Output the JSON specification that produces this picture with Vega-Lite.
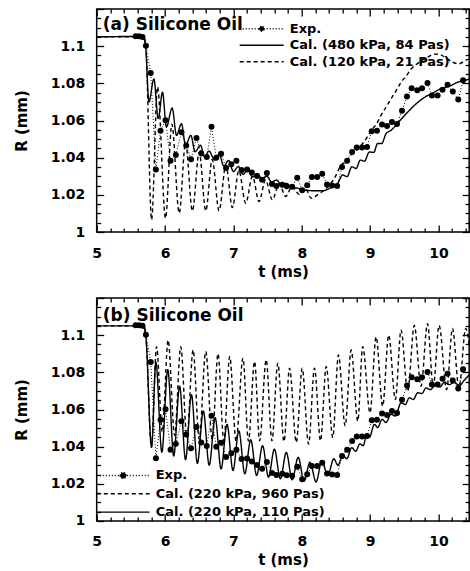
{
  "$schema": "https://vega.github.io/schema/vega-lite/v6.json",
  "padding": {"left": 12.7, "top": 7, "right": 0, "bottom": 0},
  "spacing": 16,
  "config": {
    "view": {"stroke": "black", "strokeWidth": 1.5},
    "font": "DejaVu Sans",
    "axis": {
      "domain": false, "grid": false, "ticks": true, "tickColor": "black", "tickWidth": 1.3,
      "labelFont": "DejaVu Sans", "labelFontWeight": "bold", "labelColor": "black",
      "titleFont": "DejaVu Sans", "titleFontWeight": "bold", "titleFontSize": 15, "titleColor": "black",
      "labelOverlap": false, "labelFlush": false, "labelBound": false
    }
  },
  "resolve": {"scale": {"strokeDash": "independent"}, "legend": {"strokeDash": "independent"}},
  "datasets": {
    "exp": [
      {"series":"Exp.","t":5.57,"R":1.1053},{"series":"Exp.","t":5.62,"R":1.1053},{"series":"Exp.","t":5.67,"R":1.105},{"series":"Exp.","t":5.72,"R":1.1002},
      {"series":"Exp.","t":5.79,"R":1.0856},{"series":"Exp.","t":5.866,"R":1.0337},{"series":"Exp.","t":5.934,"R":1.0545},{"series":"Exp.","t":6.007,"R":1.0602},
      {"series":"Exp.","t":6.08,"R":1.0383},{"series":"Exp.","t":6.158,"R":1.0415},{"series":"Exp.","t":6.24,"R":1.0537},{"series":"Exp.","t":6.31,"R":1.0466},
      {"series":"Exp.","t":6.38,"R":1.0391},{"series":"Exp.","t":6.46,"R":1.0506},{"series":"Exp.","t":6.53,"R":1.0423},{"series":"Exp.","t":6.61,"R":1.0403},
      {"series":"Exp.","t":6.68,"R":1.0566},{"series":"Exp.","t":6.75,"R":1.04},{"series":"Exp.","t":6.82,"R":1.0421},{"series":"Exp.","t":6.893,"R":1.0345},
      {"series":"Exp.","t":6.97,"R":1.0365},{"series":"Exp.","t":7.044,"R":1.0383},{"series":"Exp.","t":7.12,"R":1.0333},{"series":"Exp.","t":7.2,"R":1.0336},
      {"series":"Exp.","t":7.27,"R":1.032},{"series":"Exp.","t":7.345,"R":1.0301},{"series":"Exp.","t":7.42,"R":1.0281},{"series":"Exp.","t":7.49,"R":1.0317},
      {"series":"Exp.","t":7.565,"R":1.0258},{"series":"Exp.","t":7.63,"R":1.0247},{"series":"Exp.","t":7.715,"R":1.0254},{"series":"Exp.","t":7.78,"R":1.0246},
      {"series":"Exp.","t":7.86,"R":1.0243},{"series":"Exp.","t":7.934,"R":1.0292},{"series":"Exp.","t":8.007,"R":1.0225},{"series":"Exp.","t":8.08,"R":1.0251},
      {"series":"Exp.","t":8.148,"R":1.0296},{"series":"Exp.","t":8.226,"R":1.0296},{"series":"Exp.","t":8.3,"R":1.0314},{"series":"Exp.","t":8.37,"R":1.0255},
      {"series":"Exp.","t":8.445,"R":1.025},{"series":"Exp.","t":8.518,"R":1.0248},{"series":"Exp.","t":8.59,"R":1.035},{"series":"Exp.","t":8.664,"R":1.0383},
      {"series":"Exp.","t":8.737,"R":1.0431},{"series":"Exp.","t":8.805,"R":1.0455},{"series":"Exp.","t":8.883,"R":1.0455},{"series":"Exp.","t":8.956,"R":1.0458},
      {"series":"Exp.","t":9.024,"R":1.0542},{"series":"Exp.","t":9.1,"R":1.0545},{"series":"Exp.","t":9.175,"R":1.0579},{"series":"Exp.","t":9.248,"R":1.057},
      {"series":"Exp.","t":9.32,"R":1.0592},{"series":"Exp.","t":9.394,"R":1.0581},{"series":"Exp.","t":9.467,"R":1.0652},{"series":"Exp.","t":9.54,"R":1.0729},
      {"series":"Exp.","t":9.608,"R":1.0774},{"series":"Exp.","t":9.69,"R":1.0763},{"series":"Exp.","t":9.76,"R":1.0774},{"series":"Exp.","t":9.84,"R":1.0802},
      {"series":"Exp.","t":9.905,"R":1.0734},{"series":"Exp.","t":9.988,"R":1.0734},{"series":"Exp.","t":10.06,"R":1.0765},{"series":"Exp.","t":10.134,"R":1.0793},
      {"series":"Exp.","t":10.21,"R":1.0756},{"series":"Exp.","t":10.29,"R":1.0713},{"series":"Exp.","t":10.36,"R":1.0816}
    ],
    "calA": [
      {"series":"Cal. (480 kPa, 84 Pas)","t":5.0,"R":1.105},{"series":"Cal. (480 kPa, 84 Pas)","t":5.5,"R":1.1052},{"series":"Cal. (480 kPa, 84 Pas)","t":5.69,"R":1.105},
      {"series":"Cal. (480 kPa, 84 Pas)","t":5.72,"R":1.098},{"series":"Cal. (480 kPa, 84 Pas)","t":5.764,"R":1.07},{"series":"Cal. (480 kPa, 84 Pas)","t":5.837,"R":1.0823},
      {"series":"Cal. (480 kPa, 84 Pas)","t":5.9,"R":1.061},{"series":"Cal. (480 kPa, 84 Pas)","t":5.963,"R":1.0752},{"series":"Cal. (480 kPa, 84 Pas)","t":6.02,"R":1.0565},
      {"series":"Cal. (480 kPa, 84 Pas)","t":6.104,"R":1.0667},{"series":"Cal. (480 kPa, 84 Pas)","t":6.168,"R":1.052},{"series":"Cal. (480 kPa, 84 Pas)","t":6.24,"R":1.0583},
      {"series":"Cal. (480 kPa, 84 Pas)","t":6.3,"R":1.0467},{"series":"Cal. (480 kPa, 84 Pas)","t":6.377,"R":1.052},{"series":"Cal. (480 kPa, 84 Pas)","t":6.44,"R":1.0432},
      {"series":"Cal. (480 kPa, 84 Pas)","t":6.518,"R":1.0467},{"series":"Cal. (480 kPa, 84 Pas)","t":6.577,"R":1.0405},{"series":"Cal. (480 kPa, 84 Pas)","t":6.644,"R":1.0435},
      {"series":"Cal. (480 kPa, 84 Pas)","t":6.727,"R":1.0387},{"series":"Cal. (480 kPa, 84 Pas)","t":6.79,"R":1.042},{"series":"Cal. (480 kPa, 84 Pas)","t":6.86,"R":1.0355},
      {"series":"Cal. (480 kPa, 84 Pas)","t":6.93,"R":1.0385},{"series":"Cal. (480 kPa, 84 Pas)","t":7.0,"R":1.0325},{"series":"Cal. (480 kPa, 84 Pas)","t":7.07,"R":1.0352},
      {"series":"Cal. (480 kPa, 84 Pas)","t":7.14,"R":1.031},{"series":"Cal. (480 kPa, 84 Pas)","t":7.21,"R":1.0335},{"series":"Cal. (480 kPa, 84 Pas)","t":7.28,"R":1.0296},
      {"series":"Cal. (480 kPa, 84 Pas)","t":7.35,"R":1.0315},{"series":"Cal. (480 kPa, 84 Pas)","t":7.42,"R":1.0283},{"series":"Cal. (480 kPa, 84 Pas)","t":7.49,"R":1.03},
      {"series":"Cal. (480 kPa, 84 Pas)","t":7.56,"R":1.0268},{"series":"Cal. (480 kPa, 84 Pas)","t":7.63,"R":1.028},{"series":"Cal. (480 kPa, 84 Pas)","t":7.7,"R":1.0255},
      {"series":"Cal. (480 kPa, 84 Pas)","t":7.77,"R":1.0262},{"series":"Cal. (480 kPa, 84 Pas)","t":7.85,"R":1.024},{"series":"Cal. (480 kPa, 84 Pas)","t":7.95,"R":1.0235},
      {"series":"Cal. (480 kPa, 84 Pas)","t":8.05,"R":1.0225},{"series":"Cal. (480 kPa, 84 Pas)","t":8.2,"R":1.0222},{"series":"Cal. (480 kPa, 84 Pas)","t":8.3,"R":1.0222},
      {"series":"Cal. (480 kPa, 84 Pas)","t":8.43,"R":1.0239},{"series":"Cal. (480 kPa, 84 Pas)","t":8.527,"R":1.0262},{"series":"Cal. (480 kPa, 84 Pas)","t":8.6,"R":1.0307},
      {"series":"Cal. (480 kPa, 84 Pas)","t":8.664,"R":1.0298},{"series":"Cal. (480 kPa, 84 Pas)","t":8.732,"R":1.0351},{"series":"Cal. (480 kPa, 84 Pas)","t":8.795,"R":1.0342},
      {"series":"Cal. (480 kPa, 84 Pas)","t":8.858,"R":1.0387},{"series":"Cal. (480 kPa, 84 Pas)","t":8.917,"R":1.0381},{"series":"Cal. (480 kPa, 84 Pas)","t":8.99,"R":1.0431},
      {"series":"Cal. (480 kPa, 84 Pas)","t":9.053,"R":1.0428},{"series":"Cal. (480 kPa, 84 Pas)","t":9.11,"R":1.0476},{"series":"Cal. (480 kPa, 84 Pas)","t":9.17,"R":1.0476},
      {"series":"Cal. (480 kPa, 84 Pas)","t":9.233,"R":1.0529},{"series":"Cal. (480 kPa, 84 Pas)","t":9.306,"R":1.0547},{"series":"Cal. (480 kPa, 84 Pas)","t":9.379,"R":1.0574},
      {"series":"Cal. (480 kPa, 84 Pas)","t":9.452,"R":1.0606},{"series":"Cal. (480 kPa, 84 Pas)","t":9.55,"R":1.0645},{"series":"Cal. (480 kPa, 84 Pas)","t":9.647,"R":1.0681},
      {"series":"Cal. (480 kPa, 84 Pas)","t":9.744,"R":1.0711},{"series":"Cal. (480 kPa, 84 Pas)","t":9.841,"R":1.0734},{"series":"Cal. (480 kPa, 84 Pas)","t":9.939,"R":1.0752},
      {"series":"Cal. (480 kPa, 84 Pas)","t":10.012,"R":1.0768},{"series":"Cal. (480 kPa, 84 Pas)","t":10.085,"R":1.0777},{"series":"Cal. (480 kPa, 84 Pas)","t":10.18,"R":1.0788},
      {"series":"Cal. (480 kPa, 84 Pas)","t":10.28,"R":1.0806},{"series":"Cal. (480 kPa, 84 Pas)","t":10.377,"R":1.0815},{"series":"Cal. (480 kPa, 84 Pas)","t":10.45,"R":1.0823},
      {"series":"Cal. (120 kPa, 21 Pas)","t":5.0,"R":1.105},{"series":"Cal. (120 kPa, 21 Pas)","t":5.69,"R":1.105},{"series":"Cal. (120 kPa, 21 Pas)","t":5.72,"R":1.099},
      {"series":"Cal. (120 kPa, 21 Pas)","t":5.803,"R":1.0066},{"series":"Cal. (120 kPa, 21 Pas)","t":5.89,"R":1.078},{"series":"Cal. (120 kPa, 21 Pas)","t":6.007,"R":1.0075},
      {"series":"Cal. (120 kPa, 21 Pas)","t":6.1,"R":1.058},{"series":"Cal. (120 kPa, 21 Pas)","t":6.207,"R":1.0102},{"series":"Cal. (120 kPa, 21 Pas)","t":6.3,"R":1.048},
      {"series":"Cal. (120 kPa, 21 Pas)","t":6.4,"R":1.0114},{"series":"Cal. (120 kPa, 21 Pas)","t":6.5,"R":1.043},{"series":"Cal. (120 kPa, 21 Pas)","t":6.596,"R":1.0114},
      {"series":"Cal. (120 kPa, 21 Pas)","t":6.69,"R":1.039},{"series":"Cal. (120 kPa, 21 Pas)","t":6.79,"R":1.0114},{"series":"Cal. (120 kPa, 21 Pas)","t":6.89,"R":1.036},
      {"series":"Cal. (120 kPa, 21 Pas)","t":6.985,"R":1.0132},{"series":"Cal. (120 kPa, 21 Pas)","t":7.08,"R":1.033},{"series":"Cal. (120 kPa, 21 Pas)","t":7.18,"R":1.0155},
      {"series":"Cal. (120 kPa, 21 Pas)","t":7.28,"R":1.03},{"series":"Cal. (120 kPa, 21 Pas)","t":7.375,"R":1.0164},{"series":"Cal. (120 kPa, 21 Pas)","t":7.47,"R":1.028},
      {"series":"Cal. (120 kPa, 21 Pas)","t":7.57,"R":1.0173},{"series":"Cal. (120 kPa, 21 Pas)","t":7.67,"R":1.026},{"series":"Cal. (120 kPa, 21 Pas)","t":7.764,"R":1.0191},
      {"series":"Cal. (120 kPa, 21 Pas)","t":7.86,"R":1.0245},{"series":"Cal. (120 kPa, 21 Pas)","t":7.96,"R":1.0203},{"series":"Cal. (120 kPa, 21 Pas)","t":8.05,"R":1.0235},
      {"series":"Cal. (120 kPa, 21 Pas)","t":8.14,"R":1.0182},{"series":"Cal. (120 kPa, 21 Pas)","t":8.25,"R":1.0205},{"series":"Cal. (120 kPa, 21 Pas)","t":8.36,"R":1.0235},
      {"series":"Cal. (120 kPa, 21 Pas)","t":8.48,"R":1.029},{"series":"Cal. (120 kPa, 21 Pas)","t":8.577,"R":1.036},{"series":"Cal. (120 kPa, 21 Pas)","t":8.65,"R":1.038},
      {"series":"Cal. (120 kPa, 21 Pas)","t":8.72,"R":1.0414},{"series":"Cal. (120 kPa, 21 Pas)","t":8.8,"R":1.044},{"series":"Cal. (120 kPa, 21 Pas)","t":8.87,"R":1.0467},
      {"series":"Cal. (120 kPa, 21 Pas)","t":8.94,"R":1.05},{"series":"Cal. (120 kPa, 21 Pas)","t":9.015,"R":1.0545},{"series":"Cal. (120 kPa, 21 Pas)","t":9.09,"R":1.058},
      {"series":"Cal. (120 kPa, 21 Pas)","t":9.16,"R":1.0628},{"series":"Cal. (120 kPa, 21 Pas)","t":9.23,"R":1.067},{"series":"Cal. (120 kPa, 21 Pas)","t":9.307,"R":1.0717},
      {"series":"Cal. (120 kPa, 21 Pas)","t":9.38,"R":1.076},{"series":"Cal. (120 kPa, 21 Pas)","t":9.453,"R":1.0806},{"series":"Cal. (120 kPa, 21 Pas)","t":9.53,"R":1.084},
      {"series":"Cal. (120 kPa, 21 Pas)","t":9.6,"R":1.0877},{"series":"Cal. (120 kPa, 21 Pas)","t":9.67,"R":1.09},{"series":"Cal. (120 kPa, 21 Pas)","t":9.745,"R":1.092},
      {"series":"Cal. (120 kPa, 21 Pas)","t":9.84,"R":1.094},{"series":"Cal. (120 kPa, 21 Pas)","t":9.94,"R":1.0957},{"series":"Cal. (120 kPa, 21 Pas)","t":10.02,"R":1.0955},
      {"series":"Cal. (120 kPa, 21 Pas)","t":10.1,"R":1.094},{"series":"Cal. (120 kPa, 21 Pas)","t":10.2,"R":1.0915},{"series":"Cal. (120 kPa, 21 Pas)","t":10.3,"R":1.0905},
      {"series":"Cal. (120 kPa, 21 Pas)","t":10.4,"R":1.0925},{"series":"Cal. (120 kPa, 21 Pas)","t":10.45,"R":1.093}
    ],
    "calB": [
      {"series":"Cal. (220 kPa, 960 Pas)","t":5.0,"R":1.105},{"series":"Cal. (220 kPa, 960 Pas)","t":5.69,"R":1.105},{"series":"Cal. (220 kPa, 960 Pas)","t":5.72,"R":1.099},
      {"series":"Cal. (220 kPa, 960 Pas)","t":5.8,"R":1.04},{"series":"Cal. (220 kPa, 960 Pas)","t":5.876,"R":1.0938},{"series":"Cal. (220 kPa, 960 Pas)","t":5.96,"R":1.048},
      {"series":"Cal. (220 kPa, 960 Pas)","t":6.045,"R":1.0973},{"series":"Cal. (220 kPa, 960 Pas)","t":6.14,"R":1.046},{"series":"Cal. (220 kPa, 960 Pas)","t":6.23,"R":1.0938},
      {"series":"Cal. (220 kPa, 960 Pas)","t":6.32,"R":1.045},{"series":"Cal. (220 kPa, 960 Pas)","t":6.41,"R":1.092},{"series":"Cal. (220 kPa, 960 Pas)","t":6.5,"R":1.044},
      {"series":"Cal. (220 kPa, 960 Pas)","t":6.596,"R":1.0912},{"series":"Cal. (220 kPa, 960 Pas)","t":6.69,"R":1.044},{"series":"Cal. (220 kPa, 960 Pas)","t":6.775,"R":1.09},
      {"series":"Cal. (220 kPa, 960 Pas)","t":6.86,"R":1.043},{"series":"Cal. (220 kPa, 960 Pas)","t":6.946,"R":1.0885},{"series":"Cal. (220 kPa, 960 Pas)","t":7.04,"R":1.043},
      {"series":"Cal. (220 kPa, 960 Pas)","t":7.14,"R":1.0876},{"series":"Cal. (220 kPa, 960 Pas)","t":7.22,"R":1.043},{"series":"Cal. (220 kPa, 960 Pas)","t":7.31,"R":1.0858},
      {"series":"Cal. (220 kPa, 960 Pas)","t":7.384,"R":1.0432},{"series":"Cal. (220 kPa, 960 Pas)","t":7.48,"R":1.0867},{"series":"Cal. (220 kPa, 960 Pas)","t":7.564,"R":1.0432},
      {"series":"Cal. (220 kPa, 960 Pas)","t":7.65,"R":1.0849},{"series":"Cal. (220 kPa, 960 Pas)","t":7.74,"R":1.0428},{"series":"Cal. (220 kPa, 960 Pas)","t":7.822,"R":1.0822},
      {"series":"Cal. (220 kPa, 960 Pas)","t":7.92,"R":1.0423},{"series":"Cal. (220 kPa, 960 Pas)","t":8.007,"R":1.0822},{"series":"Cal. (220 kPa, 960 Pas)","t":8.1,"R":1.0414},
      {"series":"Cal. (220 kPa, 960 Pas)","t":8.187,"R":1.0822},{"series":"Cal. (220 kPa, 960 Pas)","t":8.275,"R":1.0432},{"series":"Cal. (220 kPa, 960 Pas)","t":8.358,"R":1.0831},
      {"series":"Cal. (220 kPa, 960 Pas)","t":8.454,"R":1.045},{"series":"Cal. (220 kPa, 960 Pas)","t":8.537,"R":1.0893},{"series":"Cal. (220 kPa, 960 Pas)","t":8.635,"R":1.0512},
      {"series":"Cal. (220 kPa, 960 Pas)","t":8.723,"R":1.092},{"series":"Cal. (220 kPa, 960 Pas)","t":8.82,"R":1.0538},{"series":"Cal. (220 kPa, 960 Pas)","t":8.892,"R":1.0938},
      {"series":"Cal. (220 kPa, 960 Pas)","t":8.999,"R":1.0583},{"series":"Cal. (220 kPa, 960 Pas)","t":9.088,"R":1.0991},{"series":"Cal. (220 kPa, 960 Pas)","t":9.184,"R":1.0618},
      {"series":"Cal. (220 kPa, 960 Pas)","t":9.272,"R":1.1},{"series":"Cal. (220 kPa, 960 Pas)","t":9.37,"R":1.0654},{"series":"Cal. (220 kPa, 960 Pas)","t":9.453,"R":1.1027},
      {"series":"Cal. (220 kPa, 960 Pas)","t":9.55,"R":1.0698},{"series":"Cal. (220 kPa, 960 Pas)","t":9.647,"R":1.1053},{"series":"Cal. (220 kPa, 960 Pas)","t":9.745,"R":1.0725},
      {"series":"Cal. (220 kPa, 960 Pas)","t":9.84,"R":1.1062},{"series":"Cal. (220 kPa, 960 Pas)","t":9.924,"R":1.0725},{"series":"Cal. (220 kPa, 960 Pas)","t":10.01,"R":1.1053},
      {"series":"Cal. (220 kPa, 960 Pas)","t":10.12,"R":1.0707},{"series":"Cal. (220 kPa, 960 Pas)","t":10.206,"R":1.1036},{"series":"Cal. (220 kPa, 960 Pas)","t":10.3,"R":1.0716},
      {"series":"Cal. (220 kPa, 960 Pas)","t":10.4,"R":1.1036},{"series":"Cal. (220 kPa, 960 Pas)","t":10.45,"R":1.095},
      {"series":"Cal. (220 kPa, 110 Pas)","t":5.0,"R":1.105},{"series":"Cal. (220 kPa, 110 Pas)","t":5.69,"R":1.105},{"series":"Cal. (220 kPa, 110 Pas)","t":5.72,"R":1.099},
      {"series":"Cal. (220 kPa, 110 Pas)","t":5.803,"R":1.0396},{"series":"Cal. (220 kPa, 110 Pas)","t":5.866,"R":1.0855},{"series":"Cal. (220 kPa, 110 Pas)","t":5.953,"R":1.037},
      {"series":"Cal. (220 kPa, 110 Pas)","t":6.04,"R":1.0814},{"series":"Cal. (220 kPa, 110 Pas)","t":6.127,"R":1.035},{"series":"Cal. (220 kPa, 110 Pas)","t":6.213,"R":1.0725},
      {"series":"Cal. (220 kPa, 110 Pas)","t":6.3,"R":1.033},{"series":"Cal. (220 kPa, 110 Pas)","t":6.386,"R":1.068},{"series":"Cal. (220 kPa, 110 Pas)","t":6.473,"R":1.031},
      {"series":"Cal. (220 kPa, 110 Pas)","t":6.56,"R":1.0592},{"series":"Cal. (220 kPa, 110 Pas)","t":6.646,"R":1.03},{"series":"Cal. (220 kPa, 110 Pas)","t":6.733,"R":1.0556},
      {"series":"Cal. (220 kPa, 110 Pas)","t":6.82,"R":1.028},{"series":"Cal. (220 kPa, 110 Pas)","t":6.907,"R":1.052},{"series":"Cal. (220 kPa, 110 Pas)","t":6.994,"R":1.0272},
      {"series":"Cal. (220 kPa, 110 Pas)","t":7.08,"R":1.0485},{"series":"Cal. (220 kPa, 110 Pas)","t":7.167,"R":1.0254},{"series":"Cal. (220 kPa, 110 Pas)","t":7.254,"R":1.0437},
      {"series":"Cal. (220 kPa, 110 Pas)","t":7.34,"R":1.0245},{"series":"Cal. (220 kPa, 110 Pas)","t":7.427,"R":1.0405},{"series":"Cal. (220 kPa, 110 Pas)","t":7.514,"R":1.0236},
      {"series":"Cal. (220 kPa, 110 Pas)","t":7.6,"R":1.0387},{"series":"Cal. (220 kPa, 110 Pas)","t":7.687,"R":1.0227},{"series":"Cal. (220 kPa, 110 Pas)","t":7.774,"R":1.0369},
      {"series":"Cal. (220 kPa, 110 Pas)","t":7.86,"R":1.0222},{"series":"Cal. (220 kPa, 110 Pas)","t":7.948,"R":1.0343},{"series":"Cal. (220 kPa, 110 Pas)","t":8.035,"R":1.0215},
      {"series":"Cal. (220 kPa, 110 Pas)","t":8.12,"R":1.0316},{"series":"Cal. (220 kPa, 110 Pas)","t":8.21,"R":1.021},{"series":"Cal. (220 kPa, 110 Pas)","t":8.295,"R":1.0325},
      {"series":"Cal. (220 kPa, 110 Pas)","t":8.38,"R":1.0245},{"series":"Cal. (220 kPa, 110 Pas)","t":8.47,"R":1.0335},{"series":"Cal. (220 kPa, 110 Pas)","t":8.53,"R":1.03},
      {"series":"Cal. (220 kPa, 110 Pas)","t":8.6,"R":1.0355},{"series":"Cal. (220 kPa, 110 Pas)","t":8.66,"R":1.0335},{"series":"Cal. (220 kPa, 110 Pas)","t":8.73,"R":1.0395},
      {"series":"Cal. (220 kPa, 110 Pas)","t":8.79,"R":1.0375},{"series":"Cal. (220 kPa, 110 Pas)","t":8.85,"R":1.0415},{"series":"Cal. (220 kPa, 110 Pas)","t":8.9,"R":1.0405},
      {"series":"Cal. (220 kPa, 110 Pas)","t":8.95,"R":1.0467},{"series":"Cal. (220 kPa, 110 Pas)","t":8.99,"R":1.045},{"series":"Cal. (220 kPa, 110 Pas)","t":9.063,"R":1.052},
      {"series":"Cal. (220 kPa, 110 Pas)","t":9.112,"R":1.0503},{"series":"Cal. (220 kPa, 110 Pas)","t":9.175,"R":1.0547},{"series":"Cal. (220 kPa, 110 Pas)","t":9.233,"R":1.053},
      {"series":"Cal. (220 kPa, 110 Pas)","t":9.306,"R":1.0574},{"series":"Cal. (220 kPa, 110 Pas)","t":9.37,"R":1.0565},{"series":"Cal. (220 kPa, 110 Pas)","t":9.452,"R":1.0636},
      {"series":"Cal. (220 kPa, 110 Pas)","t":9.515,"R":1.0627},{"series":"Cal. (220 kPa, 110 Pas)","t":9.574,"R":1.0663},{"series":"Cal. (220 kPa, 110 Pas)","t":9.632,"R":1.0654},
      {"series":"Cal. (220 kPa, 110 Pas)","t":9.696,"R":1.069},{"series":"Cal. (220 kPa, 110 Pas)","t":9.759,"R":1.0686},{"series":"Cal. (220 kPa, 110 Pas)","t":9.817,"R":1.0716},
      {"series":"Cal. (220 kPa, 110 Pas)","t":9.88,"R":1.0707},{"series":"Cal. (220 kPa, 110 Pas)","t":9.953,"R":1.0728},{"series":"Cal. (220 kPa, 110 Pas)","t":10.022,"R":1.0721},
      {"series":"Cal. (220 kPa, 110 Pas)","t":10.085,"R":1.0746},{"series":"Cal. (220 kPa, 110 Pas)","t":10.158,"R":1.0734},{"series":"Cal. (220 kPa, 110 Pas)","t":10.23,"R":1.0746},
      {"series":"Cal. (220 kPa, 110 Pas)","t":10.304,"R":1.0728},{"series":"Cal. (220 kPa, 110 Pas)","t":10.377,"R":1.0757},{"series":"Cal. (220 kPa, 110 Pas)","t":10.45,"R":1.0787}
    ]
  },
  "vconcat": [
    {
      "width": 372.5, "height": 223,
      "resolve": {"axis": {"x": "independent", "y": "independent"}},
      "layer": [
        {
          "data": {"name": "calA"},
          "mark": {"type": "line", "interpolate": "monotone", "strokeWidth": 1.4, "color": "black"},
          "encoding": {
            "x": {"field": "t", "type": "quantitative", "scale": {"domain": [5, 10.45], "nice": false, "zero": false},
              "axis": {"orient": "bottom", "title": "t (ms)", "titlePadding": 4, "labelPadding": 21,
                "values": [5,5.2,5.4,5.6,5.8,6,6.2,6.4,6.6,6.8,7,7.2,7.4,7.6,7.8,8,8.2,8.4,8.6,8.8,9,9.2,9.4,9.6,9.8,10,10.2,10.4],
                "tickSize": {"condition": {"test": "abs(datum.value - round(datum.value)) < 0.001", "value": -7}, "value": -4},
                "labelFontSize": {"condition": {"test": "abs(datum.value - round(datum.value)) < 0.001", "value": 14}, "value": 0},
                "labelExpr": "abs(datum.value - round(datum.value)) < 0.001 ? format(datum.value, '~g') : ''"}},
            "y": {"field": "R", "type": "quantitative", "scale": {"domain": [1, 1.12], "nice": false, "zero": false},
              "axis": {"orient": "left", "title": "R (mm)", "titlePadding": 21, "labelPadding": 19,
                "values": [1,1.005,1.01,1.015,1.02,1.025,1.03,1.035,1.04,1.045,1.05,1.055,1.06,1.065,1.07,1.075,1.08,1.085,1.09,1.095,1.1,1.105,1.11,1.115,1.12],
                "tickSize": {"condition": {"test": "abs(datum.value * 50 - round(datum.value * 50)) < 0.001", "value": -7}, "value": -4},
                "labelFontSize": {"condition": {"test": "abs(datum.value * 50 - round(datum.value * 50)) < 0.001 && datum.value < 1.11", "value": 14}, "value": 0},
                "labelExpr": "abs(datum.value * 50 - round(datum.value * 50)) < 0.001 && datum.value < 1.11 ? format(datum.value, '~g') : ''"}},
            "strokeDash": {"field": "series", "type": "nominal",
              "scale": {"domain": ["Exp.", "Cal. (480 kPa, 84 Pas)", "Cal. (120 kPa, 21 Pas)"], "range": [[1, 2], [1, 0], [4, 3]]},
              "legend": {"orient": "none", "legendX": 150.5, "legendY": 13.2, "title": null, "padding": 0,
                "symbolSize": 121, "symbolStrokeWidth": 1.4, "symbolStrokeColor": "black", "symbolFillColor": "black",
                "symbolOffset": 8, "labelOffset": 21.6, "rowPadding": 2.5, "labelLimit": 300,
                "labelFont": "DejaVu Sans", "labelFontWeight": "bold", "labelFontSize": 13, "labelColor": "black",
                "encode": {"symbols": {"update": {
                  "shape": {"signal": "datum.value === 'Exp.' ? 'M-4,0H4M-0.45,0A0.45,0.45 0 1,0 0.45,0A0.45,0.45 0 1,0 -0.45,0' : 'M-4,0H4'"},
                  "fill": {"value": "black"}, "stroke": {"value": "black"}}}}}}
          }
        },
        {
          "data": {"name": "exp"},
          "mark": {"type": "line", "strokeWidth": 1, "color": "black"},
          "encoding": {
            "x": {"field": "t", "type": "quantitative",
              "axis": {"orient": "top", "title": null, "labels": false,
                "values": [5,5.2,5.4,5.6,5.8,6,6.2,6.4,6.6,6.8,7,7.2,7.4,7.6,7.8,8,8.2,8.4,8.6,8.8,9,9.2,9.4,9.6,9.8,10,10.2,10.4],
                "tickSize": {"condition": {"test": "abs(datum.value - round(datum.value)) < 0.001", "value": -7}, "value": -4}}},
            "y": {"field": "R", "type": "quantitative",
              "axis": {"orient": "right", "title": null, "labels": false,
                "values": [1,1.005,1.01,1.015,1.02,1.025,1.03,1.035,1.04,1.045,1.05,1.055,1.06,1.065,1.07,1.075,1.08,1.085,1.09,1.095,1.1,1.105,1.11,1.115,1.12],
                "tickSize": {"condition": {"test": "abs(datum.value * 50 - round(datum.value * 50)) < 0.001", "value": -7}, "value": -4}}},
            "strokeDash": {"field": "series", "type": "nominal"}
          }
        },
        {
          "data": {"name": "exp"},
          "mark": {"type": "circle", "size": 36, "color": "black", "opacity": 1},
          "encoding": {
            "x": {"field": "t", "type": "quantitative", "axis": null},
            "y": {"field": "R", "type": "quantitative", "axis": null}
          }
        },
        {
          "data": {"values": [{}]},
          "mark": {"type": "text", "text": "(a) Silicone Oil", "align": "left", "baseline": "middle", "font": "DejaVu Sans", "fontWeight": "bold", "fontSize": 17, "color": "black"},
          "encoding": {
            "x": {"datum": 5.09, "type": "quantitative", "axis": null},
            "y": {"datum": 1.1113, "type": "quantitative", "axis": null}
          }
        }
      ]
    },
    {
      "width": 372.5, "height": 223,
      "resolve": {"axis": {"x": "independent", "y": "independent"}},
      "layer": [
        {
          "data": {"name": "calB"},
          "mark": {"type": "line", "interpolate": "monotone", "strokeWidth": 1.4, "color": "black"},
          "encoding": {
            "x": {"field": "t", "type": "quantitative", "scale": {"domain": [5, 10.45], "nice": false, "zero": false},
              "axis": {"orient": "bottom", "title": "t (ms)", "titlePadding": 4, "labelPadding": 21,
                "values": [5,5.2,5.4,5.6,5.8,6,6.2,6.4,6.6,6.8,7,7.2,7.4,7.6,7.8,8,8.2,8.4,8.6,8.8,9,9.2,9.4,9.6,9.8,10,10.2,10.4],
                "tickSize": {"condition": {"test": "abs(datum.value - round(datum.value)) < 0.001", "value": -7}, "value": -4},
                "labelFontSize": {"condition": {"test": "abs(datum.value - round(datum.value)) < 0.001", "value": 14}, "value": 0},
                "labelExpr": "abs(datum.value - round(datum.value)) < 0.001 ? format(datum.value, '~g') : ''"}},
            "y": {"field": "R", "type": "quantitative", "scale": {"domain": [1, 1.12], "nice": false, "zero": false},
              "axis": {"orient": "left", "title": "R (mm)", "titlePadding": 21, "labelPadding": 19,
                "values": [1,1.005,1.01,1.015,1.02,1.025,1.03,1.035,1.04,1.045,1.05,1.055,1.06,1.065,1.07,1.075,1.08,1.085,1.09,1.095,1.1,1.105,1.11,1.115,1.12],
                "tickSize": {"condition": {"test": "abs(datum.value * 50 - round(datum.value * 50)) < 0.001", "value": -7}, "value": -4},
                "labelFontSize": {"condition": {"test": "abs(datum.value * 50 - round(datum.value * 50)) < 0.001 && datum.value < 1.11", "value": 14}, "value": 0},
                "labelExpr": "abs(datum.value * 50 - round(datum.value * 50)) < 0.001 && datum.value < 1.11 ? format(datum.value, '~g') : ''"}},
            "strokeDash": {"field": "series", "type": "nominal",
              "scale": {"domain": ["Exp.", "Cal. (220 kPa, 960 Pas)", "Cal. (220 kPa, 110 Pas)"], "range": [[1, 2], [4, 3], [1, 0]]},
              "legend": {"orient": "none", "legendX": 0, "legendY": 171, "title": null, "padding": 0,
                "symbolSize": 121, "symbolStrokeWidth": 1.4, "symbolStrokeColor": "black", "symbolFillColor": "black",
                "symbolOffset": 20, "labelOffset": 26, "rowPadding": 4.3, "labelLimit": 300,
                "labelFont": "DejaVu Sans", "labelFontWeight": "bold", "labelFontSize": 13, "labelColor": "black",
                "encode": {"symbols": {"update": {
                  "shape": {"signal": "datum.value === 'Exp.' ? 'M-4.8,0H4.8M-0.55,0A0.55,0.55 0 1,0 0.55,0A0.55,0.55 0 1,0 -0.55,0' : 'M-4.8,0H4.8'"},
                  "fill": {"value": "black"}, "stroke": {"value": "black"}}}}}}
          }
        },
        {
          "data": {"name": "exp"},
          "mark": {"type": "line", "strokeWidth": 1, "color": "black"},
          "encoding": {
            "x": {"field": "t", "type": "quantitative",
              "axis": {"orient": "top", "title": null, "labels": false,
                "values": [5,5.2,5.4,5.6,5.8,6,6.2,6.4,6.6,6.8,7,7.2,7.4,7.6,7.8,8,8.2,8.4,8.6,8.8,9,9.2,9.4,9.6,9.8,10,10.2,10.4],
                "tickSize": {"condition": {"test": "abs(datum.value - round(datum.value)) < 0.001", "value": -7}, "value": -4}}},
            "y": {"field": "R", "type": "quantitative",
              "axis": {"orient": "right", "title": null, "labels": false,
                "values": [1,1.005,1.01,1.015,1.02,1.025,1.03,1.035,1.04,1.045,1.05,1.055,1.06,1.065,1.07,1.075,1.08,1.085,1.09,1.095,1.1,1.105,1.11,1.115,1.12],
                "tickSize": {"condition": {"test": "abs(datum.value * 50 - round(datum.value * 50)) < 0.001", "value": -7}, "value": -4}}},
            "strokeDash": {"field": "series", "type": "nominal"}
          }
        },
        {
          "data": {"name": "exp"},
          "mark": {"type": "circle", "size": 36, "color": "black", "opacity": 1},
          "encoding": {
            "x": {"field": "t", "type": "quantitative", "axis": null},
            "y": {"field": "R", "type": "quantitative", "axis": null}
          }
        },
        {
          "data": {"values": [{}]},
          "mark": {"type": "text", "text": "(b) Silicone Oil", "align": "left", "baseline": "middle", "font": "DejaVu Sans", "fontWeight": "bold", "fontSize": 17, "color": "black"},
          "encoding": {
            "x": {"datum": 5.09, "type": "quantitative", "axis": null},
            "y": {"datum": 1.1105, "type": "quantitative", "axis": null}
          }
        }
      ]
    }
  ]
}
